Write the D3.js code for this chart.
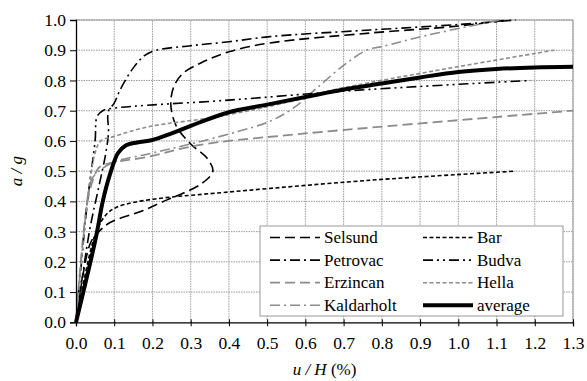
<!DOCTYPE html>
<html>
<head>
<meta charset="utf-8">
<script src="https://cdn.jsdelivr.net/npm/d3@7"></script>
<style>
  body { margin: 0; background: #fff; }
  svg text { font-family: "Liberation Serif", "Times New Roman", serif !important; }
  .tick text { font-size: 17.5px; fill: #000; }
</style>
</head>
<body>
<div id="chart"></div>
<script>
// drift u/H (%) vs. a/g
const selsund = [[0,0],[0.037,0.26],[0.06,0.30],[0.089,0.33],[0.176,0.37],[0.238,0.405],[0.28,0.427],[0.33,0.46],[0.358,0.50],[0.342,0.544],[0.30,0.59],[0.262,0.65],[0.248,0.72],[0.256,0.78],[0.28,0.824],[0.33,0.86],[0.40,0.895],[0.507,0.924],[0.77,0.957],[1.0,0.98],[1.13,1.0]];
const petrovac = [[0,0],[0.035,0.30],[0.06,0.45],[0.078,0.56],[0.085,0.63],[0.083,0.68],[0.085,0.70],[0.10,0.725],[0.115,0.768],[0.149,0.84],[0.18,0.883],[0.21,0.90],[0.30,0.915],[0.40,0.928],[0.507,0.945],[0.77,0.967],[1.0,0.985],[1.15,1.0]];
const erzincan = [[0,0],[0.03,0.40],[0.05,0.49],[0.063,0.515],[0.19,0.548],[0.32,0.586],[0.56,0.62],[1.3,0.70]];
const kaldarholt = [[0,0],[0.025,0.35],[0.04,0.47],[0.06,0.50],[0.10,0.53],[0.20,0.56],[0.30,0.59],[0.42,0.63],[0.507,0.665],[0.57,0.71],[0.63,0.775],[0.70,0.85],[0.76,0.90],[0.80,0.912],[0.92,0.95],[1.11,1.0]];
const bar = [[0,0],[0.05,0.29],[0.078,0.355],[0.105,0.38],[0.157,0.398],[0.246,0.414],[0.30,0.42],[0.77,0.47],[1.15,0.50]];
const budva = [[0,0],[0.03,0.40],[0.05,0.60],[0.055,0.68],[0.07,0.70],[0.097,0.708],[0.40,0.735],[0.74,0.768],[1.19,0.80]];
const hella = [[0,0],[0.03,0.40],[0.05,0.56],[0.065,0.60],[0.10,0.615],[0.19,0.647],[0.37,0.68],[0.56,0.73],[0.67,0.768],[1.25,0.90]];
const average = [[0,0],[0.052,0.28],[0.07,0.40],[0.089,0.49],[0.11,0.56],[0.13,0.585],[0.16,0.595],[0.20,0.603],[0.25,0.625],[0.30,0.65],[0.40,0.695],[0.50,0.72],[0.60,0.745],[0.70,0.77],[0.80,0.79],[0.90,0.81],[1.0,0.828],[1.1,0.838],[1.2,0.843],[1.3,0.845]];

const seriesNames = ["Selsund","Petrovac","Erzincan","Kaldarholt","Bar","Budva","Hella","average"];
const seriesData = [selsund, petrovac, erzincan, kaldarholt, bar, budva, hella, average];
const xTicks = [0,0.1,0.2,0.3,0.4,0.5,0.6,0.7,0.8,0.9,1.0,1.1,1.2,1.3];
const yTicks = [0,0.1,0.2,0.3,0.4,0.5,0.6,0.7,0.8,0.9,1.0];

const W = 587, H = 381;
const margin = { left: 76, right: 14, top: 20, bottom: 58.7 };
const serif = '"Liberation Serif", "Times New Roman", serif';

const gray = "#8c8c8c";
const styles = {
  Selsund:    { stroke: "#000", width: 1.6, dash: "10,5" },
  Petrovac:   { stroke: "#000", width: 1.6, dash: "10,4,2,4" },
  Erzincan:   { stroke: gray,   width: 1.8, dash: "10,5" },
  Kaldarholt: { stroke: gray,   width: 1.6, dash: "10,4,2,4" },
  Bar:        { stroke: "#000", width: 1.6, dash: "4,2.5" },
  Budva:      { stroke: "#000", width: 1.6, dash: "10,4,2,4,2,4" },
  Hella:      { stroke: gray,   width: 1.6, dash: "4,2.5" },
  average:    { stroke: "#000", width: 4,   dash: null }
};

const xScale = d3.scaleLinear().domain([0, 1.3]).range([margin.left, W - margin.right]);
const yScale = d3.scaleLinear().domain([0, 1]).range([H - margin.bottom, margin.top]);

const line = d3.line()
  .x(d => xScale(d[0]))
  .y(d => yScale(d[1]))
  .curve(d3.curveCatmullRom.alpha(0.5));

const svg = d3.select("#chart").append("svg")
  .attr("width", W)
  .attr("height", H)
  .attr("font-family", serif);

// grid
svg.append("g")
  .selectAll("line")
  .data(xTicks.slice(1))
  .join("line")
    .attr("x1", d => xScale(d)).attr("x2", d => xScale(d))
    .attr("y1", yScale(0)).attr("y2", yScale(1))
    .attr("stroke", "#999").attr("stroke-width", 1)
    .attr("stroke-dasharray", "1.5,1");

svg.append("g")
  .selectAll("line")
  .data(yTicks.slice(1))
  .join("line")
    .attr("x1", xScale(0)).attr("x2", xScale(1.3))
    .attr("y1", d => yScale(d)).attr("y2", d => yScale(d))
    .attr("stroke", "#999").attr("stroke-width", 1)
    .attr("stroke-dasharray", "1.5,1");

// plot area border (top + right)
svg.append("path")
  .attr("d", `M${xScale(0)},${yScale(1)}H${xScale(1.3)}V${yScale(0)}`)
  .attr("fill", "none")
  .attr("stroke", "#999")
  .attr("stroke-width", 1);

// series
seriesNames.forEach((name, i) => {
  const s = styles[name];
  svg.append("path")
    .attr("d", line(seriesData[i]))
    .attr("fill", "none")
    .attr("stroke", s.stroke)
    .attr("stroke-width", s.width)
    .attr("stroke-dasharray", s.dash)
    .attr("stroke-linejoin", "round");
});

// axes
const leftAxis = d3.axisLeft(yScale)
  .tickValues(yTicks)
  .tickSize(6)
  .tickPadding(4)
  .tickFormat(d3.format(".1f"));

const bottomAxis = d3.axisBottom(xScale)
  .tickValues(xTicks)
  .tickSize(4)
  .tickPadding(10)
  .tickFormat(d3.format(".1f"));

const gy = svg.append("g")
  .attr("transform", `translate(${xScale(0)},0)`)
  .call(leftAxis)
  .attr("font-family", serif)
  .attr("font-size", 17.5);
gy.select(".domain").attr("stroke", "#000").attr("stroke-width", 1.3);
gy.selectAll(".tick line").attr("stroke", "#000");

const gx = svg.append("g")
  .attr("transform", `translate(0,${yScale(0)})`)
  .call(bottomAxis)
  .attr("font-family", serif)
  .attr("font-size", 17.5);
gx.select(".domain").attr("stroke", "#000").attr("stroke-width", 1.3);
gx.selectAll(".tick line").attr("stroke", "#000").attr("y1", -3);

// axis titles
svg.append("text")
  .attr("transform", `translate(22,${(yScale(0) + yScale(1)) / 2}) rotate(-90)`)
  .attr("text-anchor", "middle")
  .attr("font-size", 17)
  .attr("font-style", "italic")
  .text("a / g");

const xt = svg.append("text")
  .attr("x", (xScale(0) + xScale(1.3)) / 2)
  .attr("y", 375)
  .attr("text-anchor", "middle")
  .attr("font-size", 17);
xt.append("tspan").attr("font-style", "italic").text("u / H");
xt.append("tspan").text(" (%)");

// legend
const lg = svg.append("g").attr("transform", "translate(260,226)");
lg.append("rect")
  .attr("width", 303)
  .attr("height", 90)
  .attr("fill", "#fff")
  .attr("stroke", "#999")
  .attr("stroke-width", 1);

seriesNames.forEach((name, i) => {
  const s = styles[name];
  const col = Math.floor(i / 4), row = i % 4;
  const x0 = 10 + col * 153, yy = 11.5 + row * 22.6;
  lg.append("line")
    .attr("x1", x0).attr("x2", x0 + 50)
    .attr("y1", yy).attr("y2", yy)
    .attr("stroke", s.stroke)
    .attr("stroke-width", s.width)
    .attr("stroke-dasharray", s.dash);
  lg.append("text")
    .attr("x", x0 + 54)
    .attr("y", yy + 5.5)
    .attr("font-size", 17)
    .text(name);
});
</script>
</body>
</html>
